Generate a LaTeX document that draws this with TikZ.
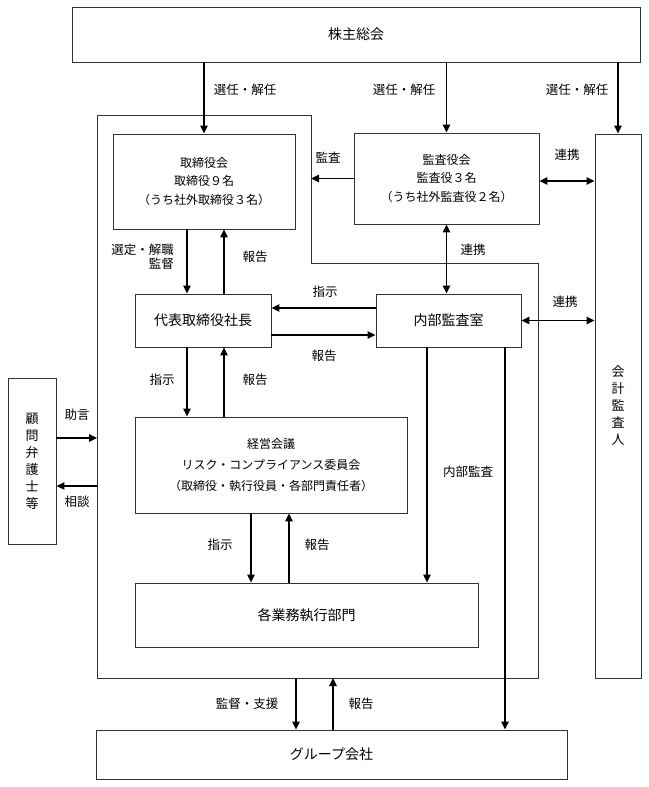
\documentclass[tikz,border=0pt]{standalone}
\usepackage{fontspec}
\setmainfont{Noto Sans CJK JP}
\usepackage{tikz}
\usetikzlibrary{arrows.meta}

\begin{document}
\begin{tikzpicture}[x=1pt,y=-1pt,>={Triangle[length=8pt,width=7.5pt]},
  box/.style={draw=black!80, line width=0.9pt, rectangle, inner sep=0pt, align=center, font=\fontsize{14}{16}\selectfont},
  multi/.style={font=\fontsize{12}{18.5}\selectfont},
  tate/.style={font=\fontsize{13}{17}\selectfont},
  lbl/.style={inner sep=0pt, align=right, font=\fontsize{12.5}{14}\selectfont},
  arr/.style={->, line width=1.3pt},
  frame/.style={draw=black!80, line width=0.9pt}]

\useasboundingbox (0,0) rectangle (648,787);

\node[box, minimum width=568pt, minimum height=55pt] (soukai) at (356,34.5) {株主総会};
\node[box, multi, minimum width=182pt, minimum height=95pt] (torikai) at (204,181.5) {取締役会\\取締役９名\\（うち社外取締役３名）};
\node[box, multi, minimum width=185pt, minimum height=91pt] (kansa) at (446.5,178.5) {監査役会\\監査役３名\\（うち社外監査役２名）};
\node[box, tate, minimum width=46pt, minimum height=544pt] (kaikei) at (618,406) {会\\計\\監\\査\\人};
\node[box, minimum width=136pt, minimum height=53pt] (daihyo) at (203,320.5) {代表取締役社長};
\node[box, minimum width=145pt, minimum height=53pt] (naibu) at (448.5,320.5) {内部監査室};
\node[box, tate, minimum width=48pt, minimum height=166pt] (komon) at (32,461) {顧\\問\\弁\\護\\士\\等};
\node[box, minimum width=272pt, minimum height=96pt, font=\fontsize{12}{21}\selectfont] (keiei) at (271,465) {経営会議\\リスク・コンプライアンス委員会\\（取締役・執行役員・各部門責任者）};
\node[box, minimum width=343pt, minimum height=64pt] (gyomu) at (306.5,615) {各業務執行部門};
\node[box, minimum width=471pt, minimum height=49pt] (group) at (331.5,754.5) {グループ会社};

% 社内の枠
\coordinate (fNW) at (97,115);
\coordinate (fN) at (311,115);
\coordinate (fM) at (311,263);
\coordinate (fE) at (538,263);
\coordinate (fSE) at (538,678);
\coordinate (fSW) at (97,678);
\draw[frame] (fNW) -- (fN) -- (fM) -- (fE) -- (fSE) -- (fSW) -- cycle;

\draw[arr] (soukai.south -| torikai.north) -- (torikai.north);
\draw[arr] (soukai.south -| kansa.north) -- (kansa.north);
\draw[arr] (soukai.south -| kaikei.north) -- (kaikei.north);
\draw[arr] (kansa.west) -- (kansa.west -| fM);
\draw[arr,<->] ([yshift=-2.5pt]kansa.east) -- ([yshift=-2.5pt]kansa.east -| kaikei.west);
\draw[arr,<->] (kansa.south) -- (kansa.south |- naibu.north);
\draw[arr,<->] (naibu.east) -- (naibu.east -| kaikei.west);

\draw[arr] ([xshift=-17pt]torikai.south) -- ([xshift=-17pt]torikai.south |- daihyo.north);
\draw[arr] ([xshift=21pt]daihyo.north) -- ([xshift=21pt]daihyo.north |- torikai.south);
\draw[arr] ([yshift=12.5pt]naibu.west) -- ([yshift=12.5pt]naibu.west -| daihyo.east);
\draw[arr] ([yshift=-14.5pt]daihyo.east) -- ([yshift=-14.5pt]daihyo.east -| naibu.west);
\draw[arr] ([xshift=-16pt]daihyo.south) -- ([xshift=-16pt]daihyo.south |- keiei.north);
\draw[arr] ([xshift=-47pt]keiei.north) -- ([xshift=-47pt]keiei.north |- daihyo.south);
\draw[arr] ([xshift=-20pt]keiei.south) -- ([xshift=-20pt]keiei.south |- gyomu.north);
\draw[arr] ([xshift=-17.5pt]gyomu.north) -- ([xshift=-17.5pt]gyomu.north |- keiei.south);
\draw[arr] ([xshift=-21.5pt]naibu.south) -- ([xshift=-21.5pt]naibu.south |- gyomu.north);
\draw[arr] ([xshift=56.5pt]naibu.south) -- ([xshift=56.5pt]naibu.south |- group.north);

\draw[arr] ([yshift=23pt]komon.east) -- ([yshift=23pt]komon.east -| fSW);
\draw[arr] ([yshift=-25pt]komon.east -| fSW) -- ([yshift=-25pt]komon.east);
\draw[arr] ([xshift=-35.5pt]group.north |- fSW) -- ([xshift=-35.5pt]group.north);
\draw[arr] ([xshift=1.5pt]group.north) -- ([xshift=1.5pt]group.north |- fSW);

\node[lbl] (sennin1) at (245,90) {選任・解任};
\node[lbl] (sennin2) at (404,90) {選任・解任};
\node[lbl] (sennin3) at (577,90) {選任・解任};
\node[lbl] (kansalbl) at (328,158) {監査};
\node[lbl] (renkei1) at (567,155) {連携};
\node[lbl] (renkei2) at (473,250) {連携};
\node[lbl] (renkei3) at (565,302) {連携};
\node[lbl, anchor=east, font=\fontsize{12.5}{13.5}\selectfont] (sentei) at (174,256.5) {選定・解職\\監督};
\node[lbl] (hokoku1) at (255,257) {報告};
\node[lbl] (shiji1) at (325,292) {指示};
\node[lbl] (hokoku2) at (324,356) {報告};
\node[lbl] (shiji2) at (162,380) {指示};
\node[lbl] (hokoku3) at (255,380) {報告};
\node[lbl] (jogen) at (77,415) {助言};
\node[lbl] (soudan) at (77,502) {相談};
\node[lbl] (naibukansa) at (468,472) {内部監査};
\node[lbl] (shiji3) at (220,545) {指示};
\node[lbl] (hokoku4) at (317,545) {報告};
\node[lbl] (kantoku) at (247,704) {監督・支援};
\node[lbl] (hokoku5) at (361,704) {報告};
\end{tikzpicture}
\end{document}
